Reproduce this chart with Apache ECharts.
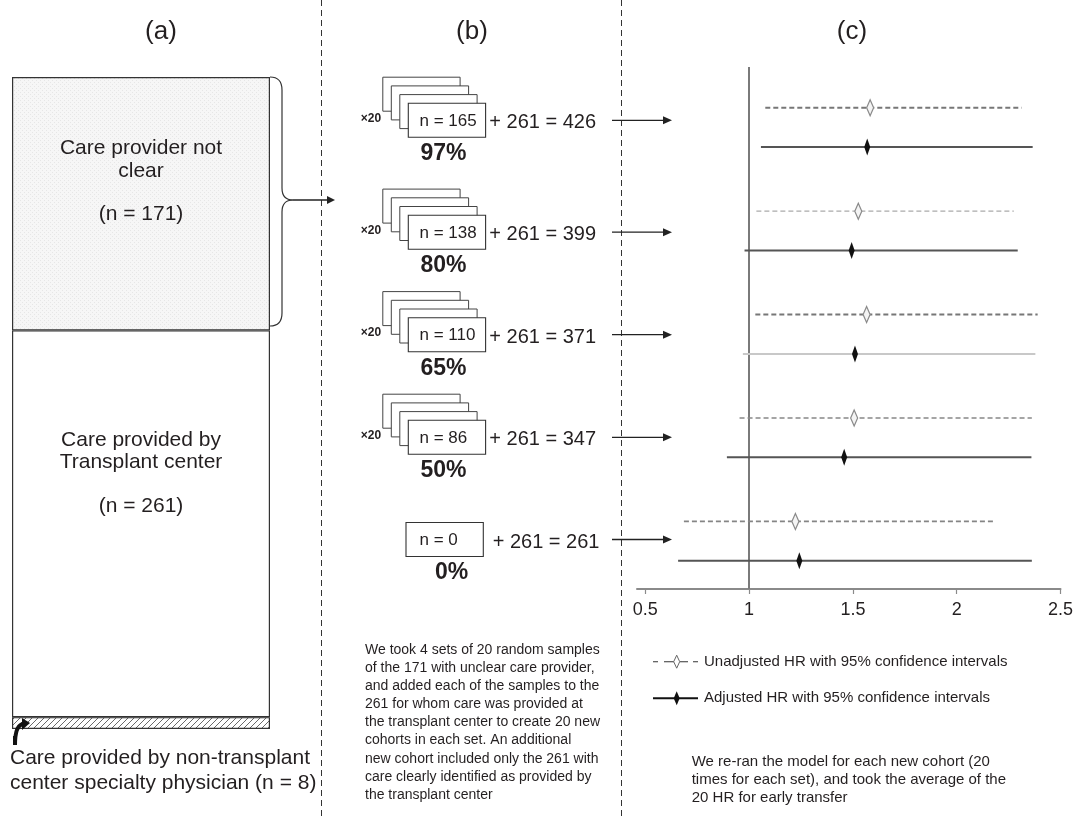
<!DOCTYPE html>
<html><head><meta charset="utf-8">
<script src="https://cdn.jsdelivr.net/npm/echarts@6/dist/echarts.min.js"></script>
<style>html,body{margin:0;padding:0;background:#fff}#chart{width:1076px;height:816px}</style>
</head><body><div id="chart"></div>
<script>
// ---------------- data ----------------
const panelTitles = ['(a)', '(b)', '(c)'];
// panel (a): composition of the cohort
const groupValues = [171, 261, 8];
const groupTitles = [['Care provider not', 'clear'], ['Care provided by', 'Transplant center'], ['Care provided by non-transplant', 'center specialty physician']];
// panel (b): sampling sets
const setPercent = ['97%', '80%', '65%', '50%', '0%'];
const sampleN = [165, 138, 110, 86, 0];
const baseN = 261;
const cohortTotals = [426, 399, 371, 347, 261];
const repeatLabel = '\u00d720';
// panel (c): hazard ratios (average of 20 HR) with 95% CI
const unadjHR = [1.583, 1.526, 1.566, 1.506, 1.223];
const unadjLo = [1.078, 1.035, 1.030, 0.954, 0.686];
const unadjHi = [2.313, 2.275, 2.390, 2.362, 2.187];
const adjHR = [1.569, 1.494, 1.510, 1.458, 1.242];
const adjLo = [1.057, 0.978, 0.970, 0.893, 0.658];
const adjHi = [2.366, 2.294, 2.379, 2.360, 2.362];
const xTicks = [0.5, 1, 1.5, 2, 2.5];
const legendNames = ['Unadjusted HR with 95% confidence intervals', 'Adjusted HR with 95% confidence intervals'];
const noteB = ['We took 4 sets of 20 random samples', 'of the 171 with unclear care provider,', 'and added each of the samples to the', '261 for whom care was provided at', 'the transplant center to create 20 new', 'cohorts in each set. An additional', 'new cohort included only the 261 with', 'care clearly identified as provided by', 'the transplant center'];
const noteC = ['We re-ran the model for each new cohort (20', 'times for each set), and took the average of the', '20 HR for early transfer'];

// ---------------- styles / layout ----------------
const FONT = '"Liberation Sans", Arial, Helvetica, sans-serif';
const INK = '#231f20';
const unadjColor = ['#777', '#aaa', '#777', '#888', '#858585'];
const unadjWidth = [2, 1.2, 2, 1.6, 1.6];
const adjColor = ['#555', '#555', '#c8c8c8', '#555', '#555'];
const rowCY = [120.3, 232.2, 334.7, 437.3, 539.5];

function makeHatch() {
  const c = document.createElement('canvas'); c.width = 6; c.height = 6;
  const g = c.getContext('2d');
  g.fillStyle = '#fff'; g.fillRect(0, 0, 6, 6);
  g.strokeStyle = '#6a6a6a'; g.lineWidth = 1;
  g.beginPath(); g.moveTo(0, 6); g.lineTo(6, 0); g.moveTo(-1, 1); g.lineTo(1, -1); g.moveTo(5, 7); g.lineTo(7, 5); g.stroke();
  return c;
}
function makeStipple() {
  const c = document.createElement('canvas'); c.width = 4; c.height = 4;
  const g = c.getContext('2d');
  g.fillStyle = '#f6f6f6'; g.fillRect(0, 0, 4, 4);
  g.fillStyle = '#e6e6e6'; g.fillRect(0, 0, 1, 1); g.fillRect(2, 2, 1, 1);
  return c;
}

function txt(x, y, text, size, opts) {
  opts = opts || {};
  return {
    type: 'text', x: x, y: y, silent: true,
    style: Object.assign({
      text: text, font: (opts.bold ? 'bold ' : '') + size + 'px ' + FONT, fill: INK,
      align: opts.align || 'center', verticalAlign: opts.va || 'middle',
      textAlign: opts.align || 'center', textVerticalAlign: opts.va || 'middle'
    }, opts.lineHeight ? { lineHeight: opts.lineHeight } : {})
  };
}
function line(x1, y1, x2, y2, stroke, w, dash) {
  return { type: 'line', silent: true, shape: { x1: x1, y1: y1, x2: x2, y2: y2 }, style: { stroke: stroke, lineWidth: w, lineDash: dash || null } };
}
function quad(x1, y1, cx, cy, x2, y2, stroke, w) {
  return { type: 'bezierCurve', silent: true, shape: { x1: x1, y1: y1, x2: x2, y2: y2, cpx1: cx, cpy1: cy }, style: { stroke: stroke, lineWidth: w, fill: null } };
}
function poly(points, fill) {
  return { type: 'polygon', silent: true, shape: { points: points }, style: { fill: fill } };
}
function diamond(cx, cy, w, h, fill, stroke, lw) {
  return { type: 'polygon', silent: true, shape: { points: [[cx, cy - h / 2], [cx + w / 2, cy], [cx, cy + h / 2], [cx - w / 2, cy]] }, style: { fill: fill, stroke: stroke || null, lineWidth: lw || 1 } };
}

const G = [];
// titles
[[161, 32], [472, 32], [852, 32]].forEach((p, i) => G.push(txt(p[0], p[1], panelTitles[i], 26)));
// separators
G.push(line(321.5, 0, 321.5, 816, '#333', 1, [6, 4]));
G.push(line(621.5, 0, 621.5, 816, '#333', 1, [6, 4]));
// brace + arrow from panel (a) to (b)
G.push(quad(270, 77, 282, 77, 282, 90, '#333', 1.2));
G.push(line(282, 90, 282, 188, '#333', 1.2));
G.push(quad(282, 188, 282, 200, 293, 200, '#333', 1.2));
G.push(quad(293, 200, 282, 200, 282, 212, '#333', 1.2));
G.push(line(282, 212, 282, 313, '#333', 1.2));
G.push(quad(282, 313, 282, 326, 270, 326, '#333', 1.2));
G.push(line(293, 200, 328, 200, '#222', 1.3));
G.push(poly([[327, 196], [335, 200], [327, 204]], '#222'));
// panel (a) texts
G.push(txt(141, 148.5, groupTitles[0][0], 21));
G.push(txt(141, 171, groupTitles[0][1], 21));
G.push(txt(141, 214.4, '(n = ' + groupValues[0] + ')', 21));
G.push(txt(141, 440, groupTitles[1][0], 21));
G.push(txt(141, 462.5, groupTitles[1][1], 21));
G.push(txt(141, 506, '(n = ' + groupValues[1] + ')', 21));
G.push(txt(10, 758.7, groupTitles[2][0], 21, { align: 'left' }));
G.push(txt(10, 783.7, groupTitles[2][1] + ' (n = ' + groupValues[2] + ')', 21, { align: 'left' }));
// bent arrow
G.push(quad(15, 745, 15, 724, 24, 724, '#111', 4));
G.push(line(15, 745, 15, 736, '#111', 4));
G.push(poly([[22, 718], [30, 723], [22, 730]], '#111'));

// panel (b)
sampleN.forEach((n, i) => {
  const cy = rowCY[i];
  const stacked = n > 0;
  const fx = stacked ? 408.3 : 406, fw = 77.3, fh = 34;
  if (stacked) {
    for (let k = 3; k >= 1; k--) {
      G.push({ type: 'rect', silent: true, shape: { x: fx - k * 8.5, y: cy - fh / 2 - k * 8.7, width: fw, height: fh }, style: { fill: '#fff', stroke: '#444', lineWidth: 1 } });
    }
    G.push(txt(371, cy - 2, repeatLabel, 12, { bold: true }));
  }
  G.push({ type: 'rect', silent: true, shape: { x: fx, y: cy - fh / 2, width: fw, height: fh }, style: { fill: '#fff', stroke: '#333', lineWidth: 1.1 } });
  G.push(txt(419.5, cy + 1, 'n = ' + n, 17, { align: 'left' }));
  G.push(txt(stacked ? 489.3 : 492.7, cy + 2.5, '+ ' + baseN + ' = ' + cohortTotals[i], 20, { align: 'left' }));
  G.push(txt(stacked ? 443.5 : 451.5, cy + 33.5, setPercent[i], 23, { bold: true }));
  G.push(line(612, cy, 664, cy, '#222', 1.3));
  G.push(poly([[663, cy - 4], [672, cy], [663, cy + 4]], '#222'));
});
G.push(txt(365, 641, noteB.join('\n'), 14, { align: 'left', va: 'top', lineHeight: 18.1 }));

// panel (c) legend and note
G.push(line(653, 661.7, 658, 661.7, '#555', 1.2));
G.push(line(664, 661.7, 674, 661.7, '#555', 1.2));
G.push(line(680, 661.7, 688, 661.7, '#555', 1.2));
G.push(line(693, 661.7, 698, 661.7, '#555', 1.2));
G.push(diamond(676.7, 661.7, 6, 13, '#fff', '#666', 1));
G.push(txt(704, 661.7, legendNames[0], 15, { align: 'left' }));
G.push(line(653, 698.3, 698, 698.3, '#111', 2));
G.push(diamond(676.7, 698.3, 6, 14, '#111'));
G.push(txt(704, 698.3, legendNames[1], 15, { align: 'left' }));
G.push(txt(691.7, 752.7, noteC.join('\n'), 15, { align: 'left', va: 'top', lineHeight: 18 }));
G.forEach(e => { e.z = 50; });

// ---------------- series for panel (c) ----------------
function hrRender(kind) {
  return function (params, api) {
    const i = api.value(0);
    const off = kind === 'unadj' ? -0.19 : 0.19;
    const y = i + off;
    const a = api.coord([api.value(1), y]);
    const b = api.coord([api.value(3), y]);
    const c = api.coord([api.value(2), y]);
    const children = [];
    if (kind === 'unadj') {
      children.push({ type: 'line', shape: { x1: a[0], y1: a[1], x2: b[0], y2: b[1] }, style: { stroke: unadjColor[i], lineWidth: unadjWidth[i], lineDash: [5, 3] } });
      children.push({ type: 'polygon', shape: { points: [[c[0], c[1] - 8], [c[0] + 3.5, c[1]], [c[0], c[1] + 8], [c[0] - 3.5, c[1]]] }, style: { fill: '#f4f4f4', stroke: '#8a8a8a', lineWidth: 1.2 } });
    } else {
      children.push({ type: 'line', shape: { x1: a[0], y1: a[1], x2: b[0], y2: b[1] }, style: { stroke: adjColor[i], lineWidth: 2 } });
      children.push({ type: 'polygon', shape: { points: [[c[0], c[1] - 8.5], [c[0] + 3, c[1]], [c[0], c[1] + 8.5], [c[0] - 3, c[1]]] }, style: { fill: '#111' } });
    }
    return { type: 'group', children: children };
  };
}
const unadjData = unadjHR.map((v, i) => [i, unadjLo[i], v, unadjHi[i]]);
const adjData = adjHR.map((v, i) => [i, adjLo[i], v, adjHi[i]]);

const hatch = makeHatch();
const stipple = makeStipple();
const barBorder = { borderColor: '#333', borderWidth: 1.2 };

const option = {
  backgroundColor: '#fff',
  animation: false,
  textStyle: { fontFamily: FONT },
  grid: [
    { left: 637, right: 14, top: 67, bottom: 227, containLabel: false },
    { left: 12, width: 258, top: 77, height: 652, containLabel: false }
  ],
  xAxis: [
    {
      type: 'value', gridIndex: 0, min: 0.46, max: 2.5, position: 'bottom',
      axisLine: { show: true, onZero: false, lineStyle: { color: '#8a8a8a', width: 2 } },
      axisTick: { show: true, length: 5, lineStyle: { color: '#8a8a8a', width: 1.2 }, customValues: xTicks },
      axisLabel: { show: true, color: INK, fontSize: 18, fontFamily: FONT, margin: 12, customValues: xTicks, formatter: v => String(v) },
      splitLine: { show: false }
    },
    { type: 'category', gridIndex: 1, data: ['cohort'], show: false }
  ],
  yAxis: [
    { type: 'value', gridIndex: 0, min: -0.585, max: 4.464, inverse: true, show: false, splitLine: { show: false } },
    { type: 'value', gridIndex: 1, min: 0, max: groupValues[0] + groupValues[1] + groupValues[2], show: false, splitLine: { show: false } }
  ],
  series: [
    {
      type: 'custom', name: legendNames[0], xAxisIndex: 0, yAxisIndex: 0,
      renderItem: hrRender('unadj'), data: unadjData, encode: { x: [1, 2, 3], y: 0 }, silent: true, z: 3,
      markLine: { silent: true, symbol: ['none', 'none'], label: { show: false }, lineStyle: { color: '#7a7a7a', width: 2, type: 'solid' }, data: [{ xAxis: 1 }], z: 2 }
    },
    {
      type: 'custom', name: legendNames[1], xAxisIndex: 0, yAxisIndex: 0,
      renderItem: hrRender('adj'), data: adjData, encode: { x: [1, 2, 3], y: 0 }, silent: true, z: 3
    },
    { type: 'bar', xAxisIndex: 1, yAxisIndex: 1, stack: 'a', barWidth: 258, data: [groupValues[2]], itemStyle: Object.assign({ color: { image: hatch, repeat: 'repeat' } }, barBorder), silent: true },
    { type: 'bar', xAxisIndex: 1, yAxisIndex: 1, stack: 'a', barWidth: 258, data: [groupValues[1]], itemStyle: Object.assign({ color: '#fff' }, barBorder), silent: true },
    { type: 'bar', xAxisIndex: 1, yAxisIndex: 1, stack: 'a', barWidth: 258, data: [groupValues[0]], itemStyle: Object.assign({ color: { image: stipple, repeat: 'repeat' } }, barBorder), silent: true }
  ],
  graphic: { elements: G }
};

const chart = echarts.init(document.getElementById('chart'), null, { renderer: 'canvas', width: 1076, height: 816 });
chart.setOption(option);
</script>
</body></html>
